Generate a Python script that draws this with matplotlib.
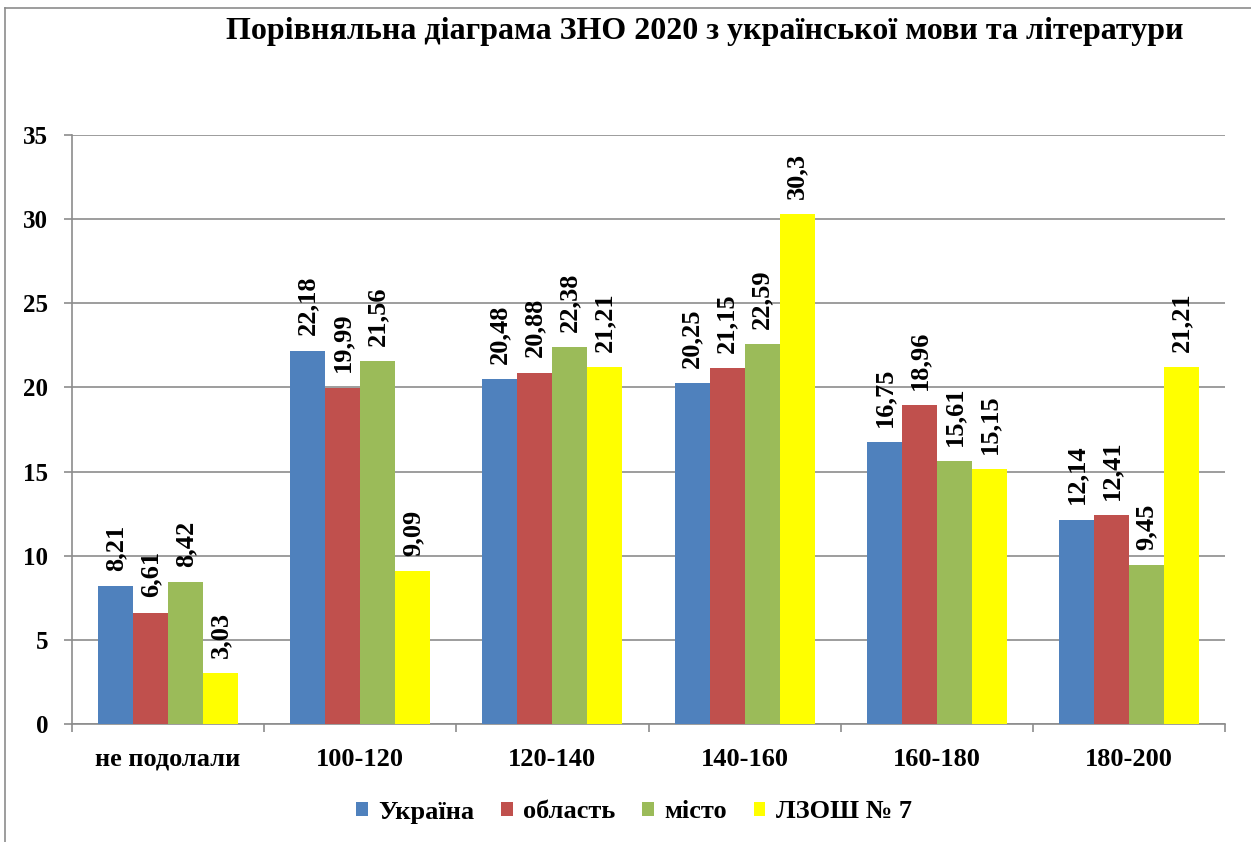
import matplotlib.pyplot as plt
import numpy as np
from matplotlib.lines import Line2D

plt.rcParams['font.family'] = ['Liberation Serif', 'DejaVu Serif']
plt.rcParams['font.weight'] = 'bold'

# Data
categories = ['не подолали', '100-120', '120-140', '140-160', '160-180', '180-200']
ukraine = [8.21, 22.18, 20.48, 20.25, 16.75, 12.14]
oblast = [6.61, 19.99, 20.88, 21.15, 18.96, 12.41]
misto = [8.42, 21.56, 22.38, 22.59, 15.61, 9.45]
school = [3.03, 9.09, 21.21, 30.3, 15.15, 21.21]
series_names = ['Україна', 'область', 'місто', 'ЛЗОШ № 7']
colors = ['#4F81BD', '#C0504D', '#9BBB59', '#FFFF00']

fig = plt.figure(figsize=(12.51, 8.42), dpi=100)
W, H = 1251, 842
ax = fig.add_axes([72 / W, 1 - 724 / H, (1225 - 72) / W, (724 - 135) / H])

x = np.arange(len(categories))
bw = 0.182
for i, (vals, name, col) in enumerate(zip([ukraine, oblast, misto, school], series_names, colors)):
    pos = x + (i - 1.5) * bw
    ax.bar(pos, vals, width=bw, color=col, label=name, zorder=3)
    for p, v in zip(pos, vals):
        ax.annotate(f'{v:g}'.replace('.', ','), (p, v), xytext=(0, 11),
                    textcoords='offset points', rotation=90, ha='center', va='bottom',
                    fontsize=19, fontweight='bold')

ax.set_xlim(-0.5, len(categories) - 0.5)
ax.set_ylim(0, 35)
ax.set_yticks(np.arange(0, 36, 5))
ax.yaxis.grid(True, color='#8c8c8c', linewidth=1.2, zorder=0)
ax.set_xticks(x)
ax.set_xticklabels(categories, fontsize=19, fontweight='bold')
ax.tick_params(axis='x', length=0, pad=17)
ax.set_xticks(np.arange(-0.5, len(categories)), minor=True)
ax.tick_params(axis='x', which='minor', length=6, color='#8c8c8c', width=1.2)
ax.tick_params(axis='y', labelsize=18, length=6, color='#8c8c8c', width=1.2, pad=11)
for lbl in ax.get_yticklabels():
    lbl.set_fontweight('bold')
for s in ['top', 'right']:
    ax.spines[s].set_visible(False)
for s in ['left', 'bottom']:
    ax.spines[s].set_color('#8c8c8c')
    ax.spines[s].set_linewidth(1.2)

fig.text(705 / W, 1 - 32 / H, 'Порівняльна діаграма ЗНО 2020 з української мови та літератури',
         ha='center', va='center', fontsize=23, fontweight='bold')

fig.legend(loc='center', bbox_to_anchor=(634 / W, 1 - 812 / H), ncol=4, frameon=False,
           fontsize=19, handlelength=0.45, handleheight=0.45, handletextpad=0.4, columnspacing=1.0)

# outer chart frame (cut on the right and bottom)
fig.add_artist(Line2D([5 / W, 1], [1 - 8 / H, 1 - 8 / H], color='#8c8c8c', linewidth=1.2))
fig.add_artist(Line2D([5 / W, 5 / W], [0, 1 - 8 / H], color='#8c8c8c', linewidth=1.2))

fig.savefig('out.png', dpi=100)
